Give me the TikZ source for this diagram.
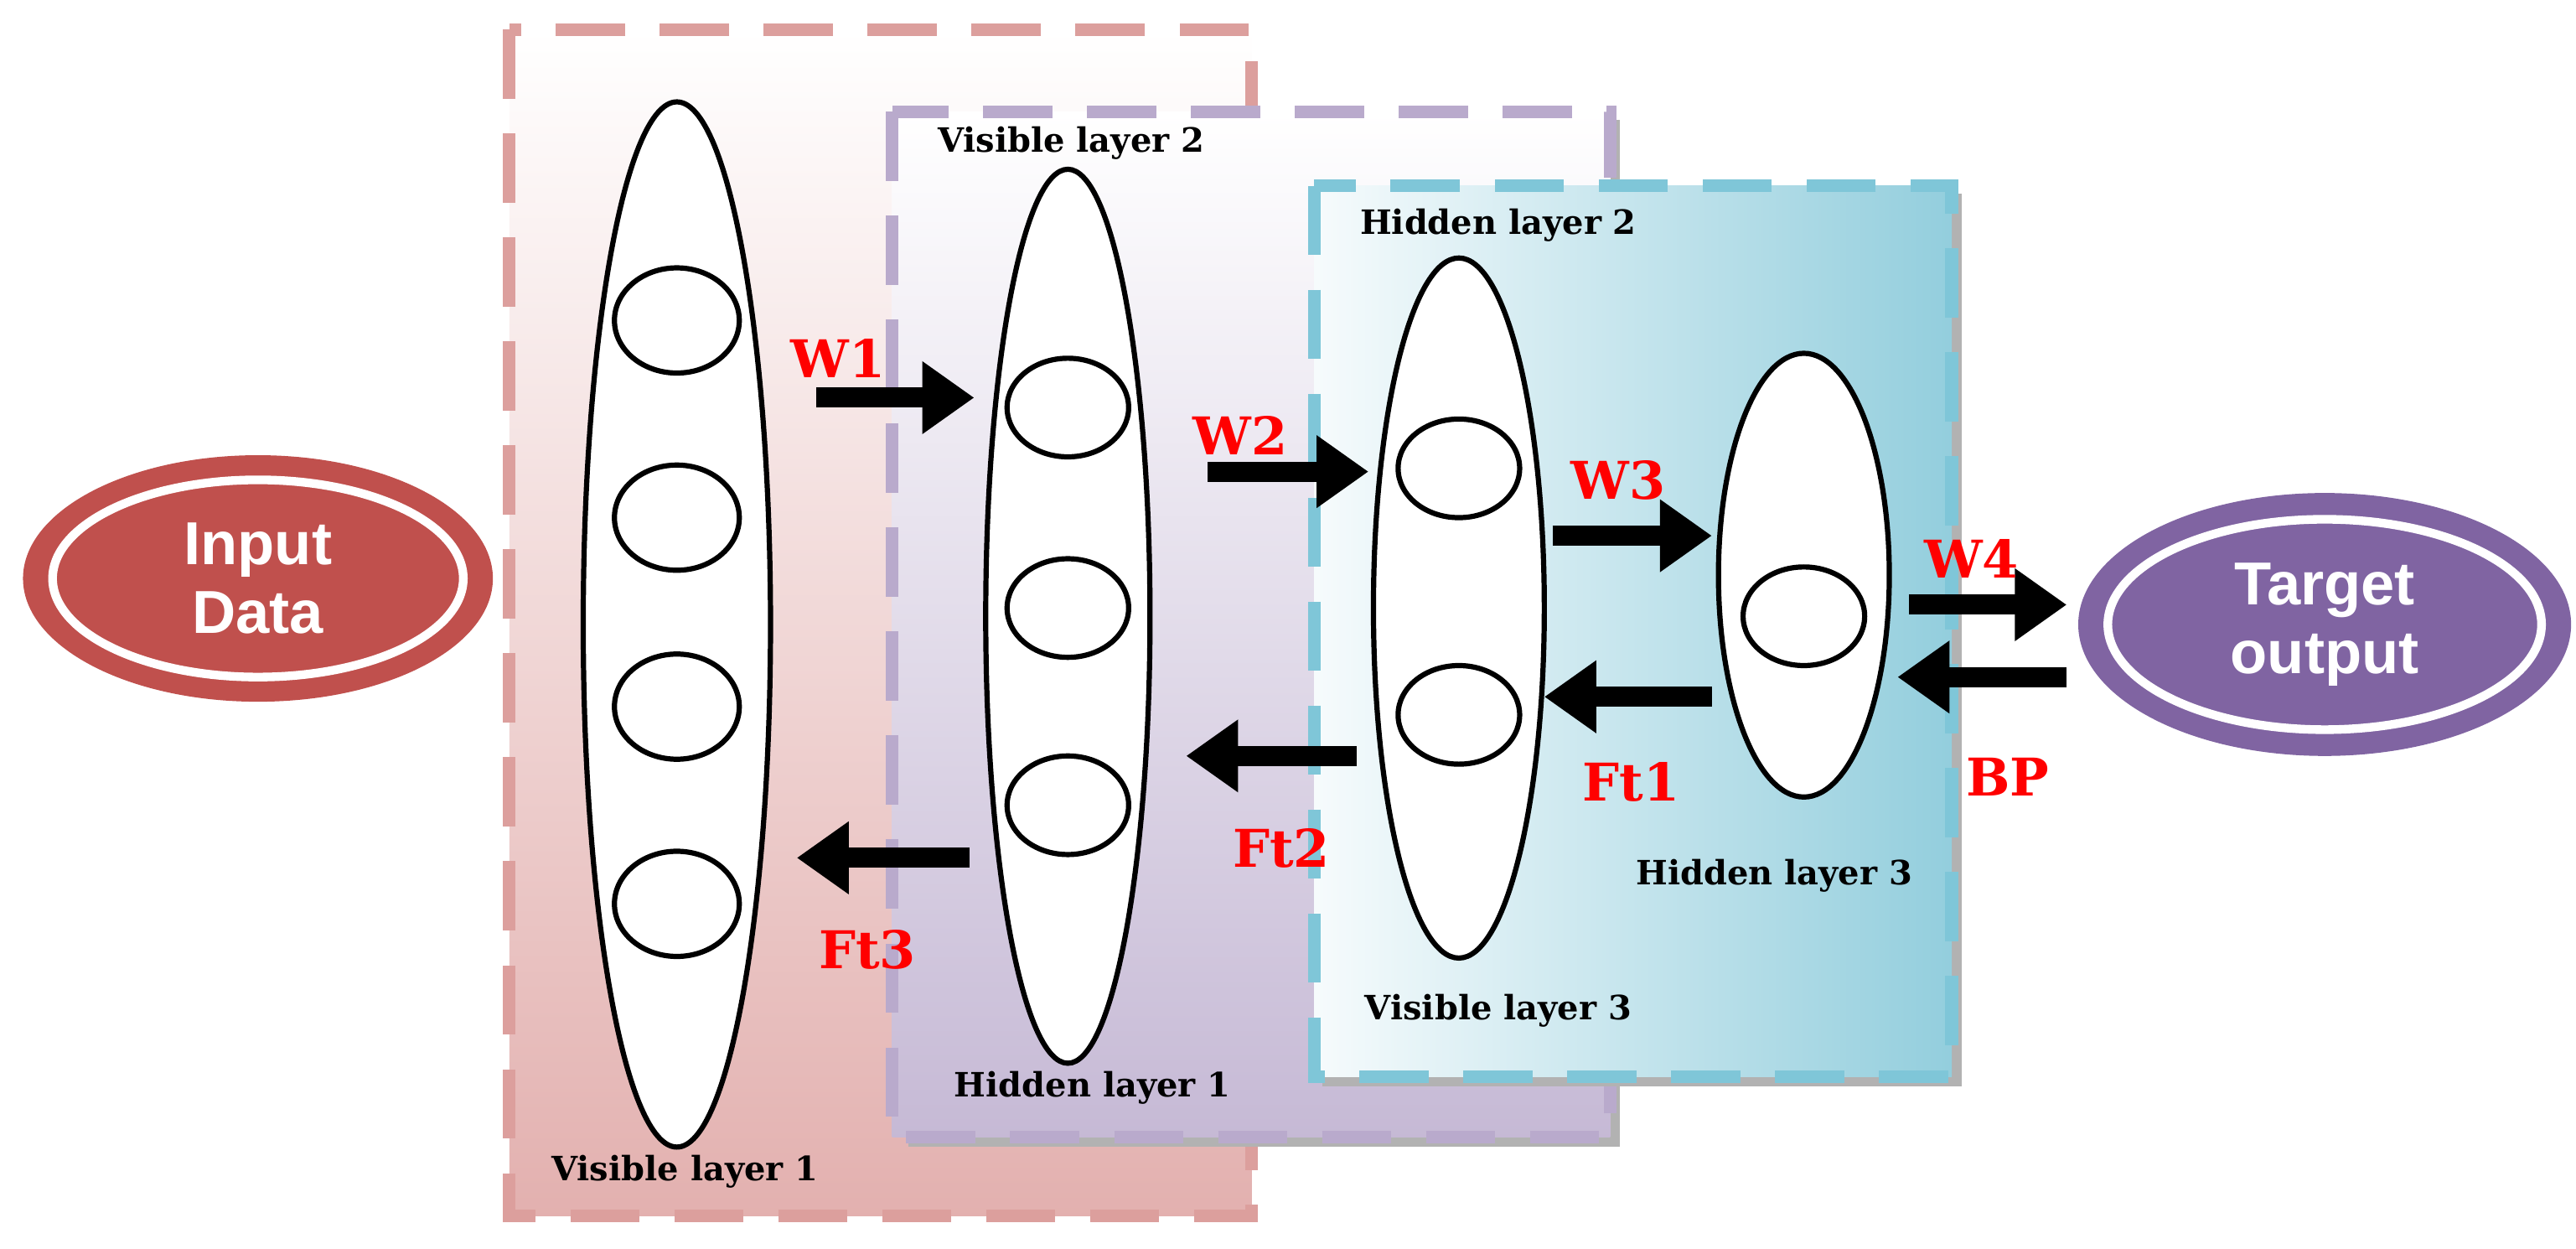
\documentclass[tikz,border=0pt]{standalone}
\usepackage{fontspec}
\setmainfont{DejaVu Serif}
\newfontfamily\sansf{Liberation Sans}
\usetikzlibrary{arrows.meta,shadows}
\definecolor{redc}{HTML}{C0504D}
\definecolor{purc}{HTML}{8064A2}
\definecolor{bluec}{HTML}{93CEDD}
\definecolor{blueb}{HTML}{7FC6D8}
\begin{document}
\begin{tikzpicture}[
  box/.style={line width=2.2pt,dash pattern=on 12pt off 6pt},
  neur/.style={draw,line width=0.9pt,fill=white},
  lay/.style={draw,line width=0.9pt,fill=white},
  arr/.style={line width=3.5pt,-{Triangle[length=9pt,width=12pt]}},
  wl/.style={text=red,font=\bfseries\fontsize{9}{9}\selectfont},
  ll/.style={font=\bfseries\fontsize{5.8}{6}\selectfont},
  io/.style={font=\sansf\bfseries\fontsize{10.5}{12}\selectfont,text=white,align=center}]
\useasboundingbox (0,0) rectangle (15.68,-7.60);
% boxes
\shade[top color=white,bottom color=redc!45] (3.10,-0.18) rectangle (7.62,-7.40);
\draw[box,redc!55] (3.10,-0.18) rectangle (7.62,-7.40);
\fill[gray!60] (5.53,-6.92) rectangle (9.85,-6.98);
\fill[gray!60] (9.80,-0.73) rectangle (9.86,-6.98);
\shade[top color=white,bottom color=purc!45] (5.43,-0.68) rectangle (9.80,-6.92);
\draw[box,purc!55] (5.43,-0.68) rectangle (9.80,-6.92);
\fill[gray!60] (8.05,-6.55) rectangle (11.94,-6.61);
\fill[gray!60] (11.88,-1.18) rectangle (11.94,-6.61);
\shade[shading angle=60,left color=bluec!8,right color=bluec] (8.00,-1.13) rectangle (11.88,-6.55);
\draw[box,blueb] (8.00,-1.13) rectangle (11.88,-6.55);
% input/output
\fill[redc] (1.57,-3.52) ellipse (1.43 and 0.75);
\draw[white,line width=1.5pt] (1.57,-3.52) ellipse (1.25 and 0.60);
\node[io] (in) at (1.57,-3.52) {Input\\Data};
\fill[purc] (14.15,-3.80) ellipse (1.50 and 0.80);
\draw[white,line width=1.5pt] (14.15,-3.80) ellipse (1.32 and 0.64);
\node[io] (out) at (14.15,-3.80) {Target\\output};
% layers
\draw[lay] (4.12,-3.80) ellipse (0.57 and 3.18);
\foreach \y in {1.95,3.15,4.30,5.50} \draw[neur] (4.12,-\y) ellipse (0.38 and 0.32);
\draw[lay] (6.50,-3.75) ellipse (0.50 and 2.72);
\foreach \y in {2.48,3.70,4.90} \draw[neur] (6.50,-\y) ellipse (0.37 and 0.30);
\draw[lay] (8.88,-3.70) ellipse (0.52 and 2.13);
\foreach \y in {2.85,4.35} \draw[neur] (8.88,-\y) ellipse (0.37 and 0.30);
\draw[lay] (10.98,-3.50) ellipse (0.52 and 1.35);
\draw[neur] (10.98,-3.75) ellipse (0.37 and 0.30);
% arrows
\coordinate (w1a) at (4.97,-2.42); \coordinate (w1b) at (5.93,-2.42);
\coordinate (w2a) at (7.35,-2.87); \coordinate (w2b) at (8.33,-2.87);
\coordinate (w3a) at (9.45,-3.26); \coordinate (w3b) at (10.42,-3.26);
\coordinate (w4a) at (11.62,-3.68); \coordinate (w4b) at (12.58,-3.68);
\coordinate (bpa) at (12.58,-4.12); \coordinate (bpb) at (11.55,-4.12);
\coordinate (f1a) at (10.42,-4.24); \coordinate (f1b) at (9.40,-4.24);
\coordinate (f2a) at (8.26,-4.60); \coordinate (f2b) at (7.22,-4.60);
\coordinate (f3a) at (5.90,-5.22); \coordinate (f3b) at (4.85,-5.22);
\foreach \a/\b in {w1a/w1b,w2a/w2b,w3a/w3b,w4a/w4b,bpa/bpb,f1a/f1b,f2a/f2b,f3a/f3b} \draw[arr] (\a) -- (\b);
% labels
\node[wl] at (5.10,-2.18) {W1};
\node[wl] at (7.55,-2.65) {W2};
\node[wl] at (9.85,-2.92) {W3};
\node[wl] at (12.00,-3.40) {W4};
\node[wl] at (9.93,-4.76) {Ft1};
\node[wl] at (12.22,-4.73) {BP};
\node[wl] at (7.80,-5.16) {Ft2};
\node[wl] at (5.28,-5.78) {Ft3};
\node[ll] at (6.52,-0.87) {Visible layer 2};
\node[ll] at (9.12,-1.37) {Hidden layer 2};
\node[ll] at (10.80,-5.33) {Hidden layer 3};
\node[ll] at (9.12,-6.15) {Visible layer 3};
\node[ll] at (6.65,-6.62) {Hidden layer 1};
\node[ll] at (4.17,-7.13) {Visible layer 1};
\end{tikzpicture}
\end{document}
